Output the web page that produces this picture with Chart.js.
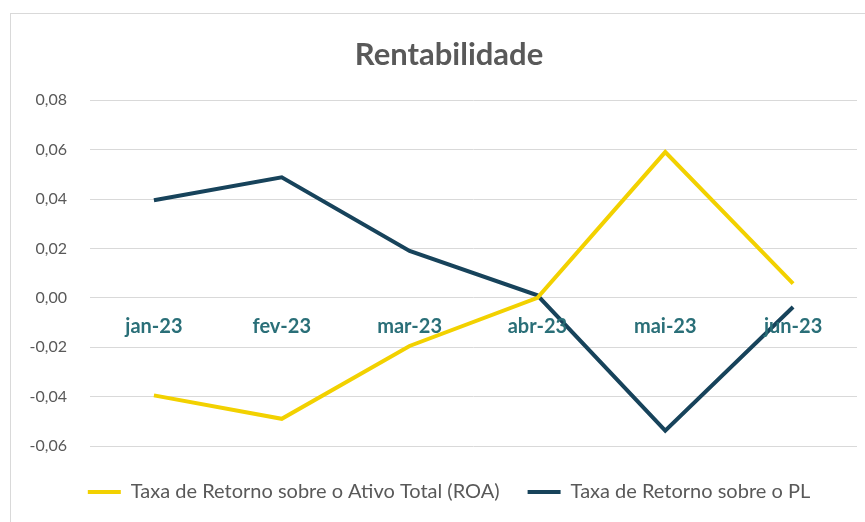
<!DOCTYPE html>
<html>
<head>
<meta charset="utf-8">
<script src="https://cdn.jsdelivr.net/npm/chart.js@4.4.1/dist/chart.umd.min.js"></script>
<style>
  html, body { margin: 0; padding: 0; background: #ffffff; }
  body { width: 865px; height: 522px; overflow: hidden; position: relative; }
  .frame {
    position: absolute; left: 10px; top: 13px; width: 900px; height: 520px;
    border-left: 1px solid #d9d9d9; border-top: 1px solid #d9d9d9;
  }
  .box { position: absolute; left: 11px; top: 14px; width: 876px; height: 508px; }
</style>
</head>
<body>
<div class="frame"></div>
<div class="box"><canvas id="chart"></canvas></div>
<script>
// data
const months = ['jan-23', 'fev-23', 'mar-23', 'abr-23', 'mai-23', 'jun-23']
const roa = [-0.0395, -0.049, -0.0195, 0.0, 0.059, 0.0057]
const retornoPL = [0.0395, 0.0488, 0.019, 0.001, -0.0538, -0.0037]
const yTicks = [-0.06, -0.04, -0.02, 0.00, 0.02, 0.04, 0.06, 0.08]

const FONT = 'Lato, "Open Sans", sans-serif'
const textGray = '#595959'

// month labels sit on the zero line, like Excel does
const zeroLineLabels = {
  id: 'zeroLineLabels',
  afterDatasetsDraw(chart) {
    const { ctx, scales: { x, y } } = chart
    const y0 = y.getPixelForValue(0)
    ctx.save()
    ctx.font = 'bold 20px ' + FONT
    ctx.fillStyle = '#2a6f78'
    ctx.textAlign = 'center'
    ctx.textBaseline = 'middle'
    months.forEach((m, i) => {
      ctx.fillText(m, x.getPixelForValue(i), y0 + 29)
    })
    ctx.restore()
  }
}

new Chart(document.getElementById('chart'), {
  type: 'line',
  data: {
    labels: months,
    datasets: [
      {
        label: 'Taxa de Retorno sobre o Ativo Total (ROA)',
        data: roa,
        borderColor: '#f2d100',
        backgroundColor: '#f2d100',
        borderWidth: 4,
        pointRadius: 0,
        tension: 0,
      },
      {
        label: 'Taxa de Retorno sobre o PL',
        data: retornoPL,
        borderColor: '#17435b',
        backgroundColor: '#17435b',
        borderWidth: 4,
        pointRadius: 0,
        tension: 0,
      }
    ]
  },
  options: {
    responsive: true,
    maintainAspectRatio: false,
    animation: false,
    layout: { padding: { bottom: 10 } },
    plugins: {
      title: {
        display: true,
        text: 'Rentabilidade',
        color: textGray,
        font: { family: FONT, size: 31, weight: 'bold' },
        padding: { top: 22, bottom: 27 },
      },
      legend: {
        position: 'bottom',
        labels: {
          color: textGray,
          font: { family: FONT, size: 20 },
          boxWidth: 33,
          boxHeight: 4,
          padding: 28,
          generateLabels(chart) {
            return chart.data.datasets.map((ds, i) => ({
              text: ds.label,
              fillStyle: ds.borderColor,
              strokeStyle: ds.borderColor,
              lineWidth: 0,
              fontColor: textGray,
              datasetIndex: i,
            }))
          }
        }
      },
      tooltip: { enabled: false }
    },
    scales: {
      x: {
        offset: true,
        grid: { display: false },
        border: { display: false },
        ticks: { display: false },
      },
      y: {
        min: -0.06,
        max: 0.08,
        afterBuildTicks(scale) {
          scale.ticks = yTicks.map(v => ({ value: v }))
        },
        afterFit(scale) { scale.width = 79 },
        grid: { color: '#d9d9d9', drawTicks: false },
        border: { display: false },
        ticks: {
          color: textGray,
          padding: 23,
          font: { family: FONT, size: 16 },
          callback: v => v.toFixed(2).replace('.', ',')
        }
      },
      // empty right margin so title and legend center like the Excel chart
      spacer: {
        position: 'right',
        grid: { display: false },
        border: { display: false },
        ticks: { display: false },
        afterFit(scale) { scale.width = 30 }
      }
    }
  },
  plugins: [zeroLineLabels]
})
</script>
</body>
</html>
